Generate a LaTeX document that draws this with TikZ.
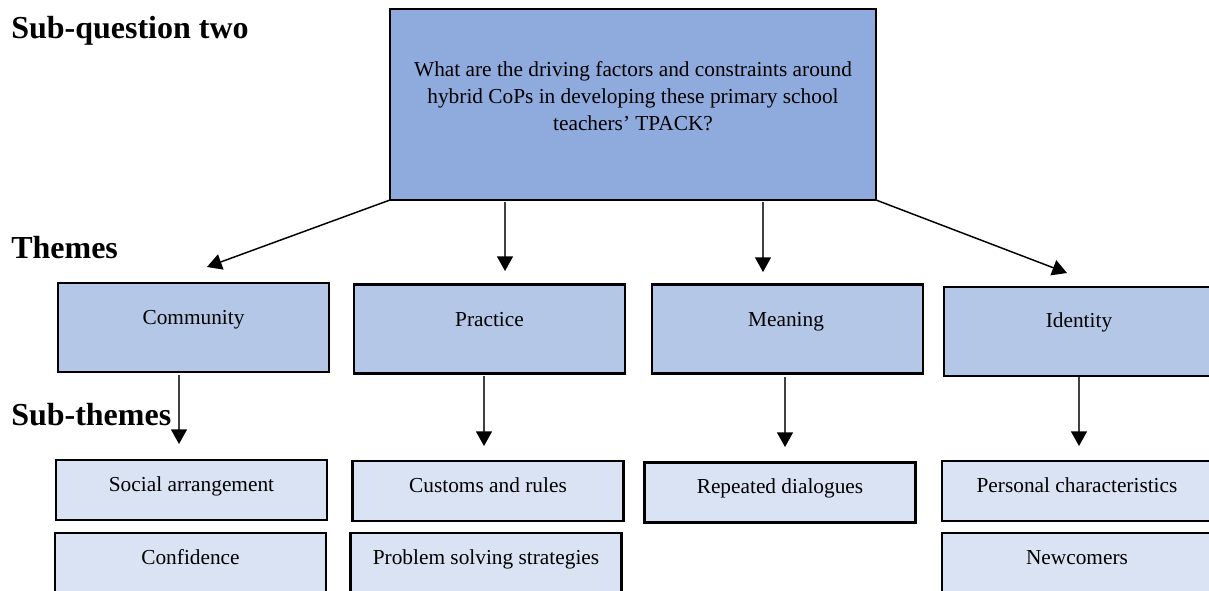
\documentclass[tikz,border=0pt]{standalone}
\usepackage{fontspec}
\setmainfont{Liberation Serif}
\usetikzlibrary{arrows.meta}
\definecolor{qfill}{HTML}{8FAADC}
\definecolor{tfill}{HTML}{B4C7E7}
\definecolor{sfill}{HTML}{DAE3F3}
\begin{document}
\begin{tikzpicture}[x=0.75pt,y=-0.75pt,
  box/.style={draw=black, line width=1.8pt, inner sep=0pt, outer sep=0pt, minimum width=203.25pt},
  question/.style={box, fill=qfill, line width=2.2pt, minimum width=364.5pt, minimum height=143.25pt},
  theme/.style={box, fill=tfill, minimum height=66.75pt},
  subtheme/.style={box, fill=sfill, minimum height=45pt},
  subtall/.style={box, fill=sfill, minimum height=52.5pt},
  lbl/.style={font=\fontsize{16}{20}\selectfont, anchor=base, inner sep=0pt},
  heading/.style={font=\fontsize{24}{28}\selectfont\bfseries, anchor=base west, inner sep=0pt},
  tip/.style={-{Triangle[width=12pt,length=11pt,fill=black,color=black]}},
  link/.style={line width=1.1pt, draw=black, tip},
  vlink/.style={line width=1.1pt, draw=black!75, tip}
]
\useasboundingbox (0,0) rectangle (1209,591);
\clip (0,0) rectangle (1209,591);

% headings
\node[heading] (hq) at (11,39) {Sub-question two};
\node[heading] (ht) at (11,259) {Themes};
\node[heading] (hs) at (11,425) {Sub-themes};

% research question
\node[question] (q) at (633,104.5) {};
\node[font=\fontsize{16}{20}\selectfont, align=center, inner sep=0pt] (qt) at (633,96)
  {What are the driving factors and constraints around\\hybrid CoPs in developing these primary school\\teachers’ TPACK?};

% themes
\node[theme] (community) at (193.5,327.5) {};
\node[theme] (practice)  at (489.5,329) {};
\node[theme] (meaning)   at (787.5,329) {};
\node[theme] (identity)  at (1079.5,331.5) {};
\node[lbl] (communityt) at (193.5,325) {Community};
\node[lbl] (practicet)  at (489.5,326) {Practice};
\node[lbl] (meaningt)   at (786,326) {Meaning};
\node[lbl] (identityt)  at (1079,328) {Identity};

% sub-themes
\node[subtheme] (social)   at (191.5,490) {};
\node[subtheme] (customs)  at (488,491) {};
\node[subtheme] (repeated) at (780,492.5) {};
\node[subtheme] (personal) at (1077.5,491) {};
\node[subtall] (confidence) at (190.5,568) {};
\node[subtall] (problem)    at (486,568) {};
\node[subtall] (newcomers)  at (1077.5,568) {};
\node[lbl] (socialt)     at (191.5,491) {Social arrangement};
\node[lbl] (customst)    at (488,492) {Customs and rules};
\node[lbl] (repeatedt)   at (780,493) {Repeated dialogues};
\node[lbl] (personalt)   at (1077,492) {Personal characteristics};
\node[lbl] (confidencet) at (190.5,564) {Confidence};
\node[lbl] (problemt)    at (486,564) {Problem solving strategies};
\node[lbl] (newcomerst)  at (1077,564) {Newcomers};

% connector ends
\coordinate (q1) at (505,202);
\coordinate (q2) at (763,202);
\coordinate (e1) at (207,267);
\coordinate (e2) at (505,271);
\coordinate (e3) at (763,272);
\coordinate (e4) at (1067,273);
\coordinate (s1) at (179,375);
\coordinate (s2) at (484,376);
\coordinate (s3) at (785,377);
\coordinate (s4) at (1079,377);
\coordinate (f1) at (179,444);
\coordinate (f2) at (484,446);
\coordinate (f3) at (785,447);
\coordinate (f4) at (1079,446);

% question to themes
\draw[link] (q.south west) -- (e1);
\draw[vlink] (q1) -- (e2);
\draw[vlink] (q2) -- (e3);
\draw[link] (q.south east) -- (e4);

% themes to sub-themes
\draw[vlink] (s1) -- (f1);
\draw[vlink] (s2) -- (f2);
\draw[vlink] (s3) -- (f3);
\draw[vlink] (s4) -- (f4);
\end{tikzpicture}
\end{document}
